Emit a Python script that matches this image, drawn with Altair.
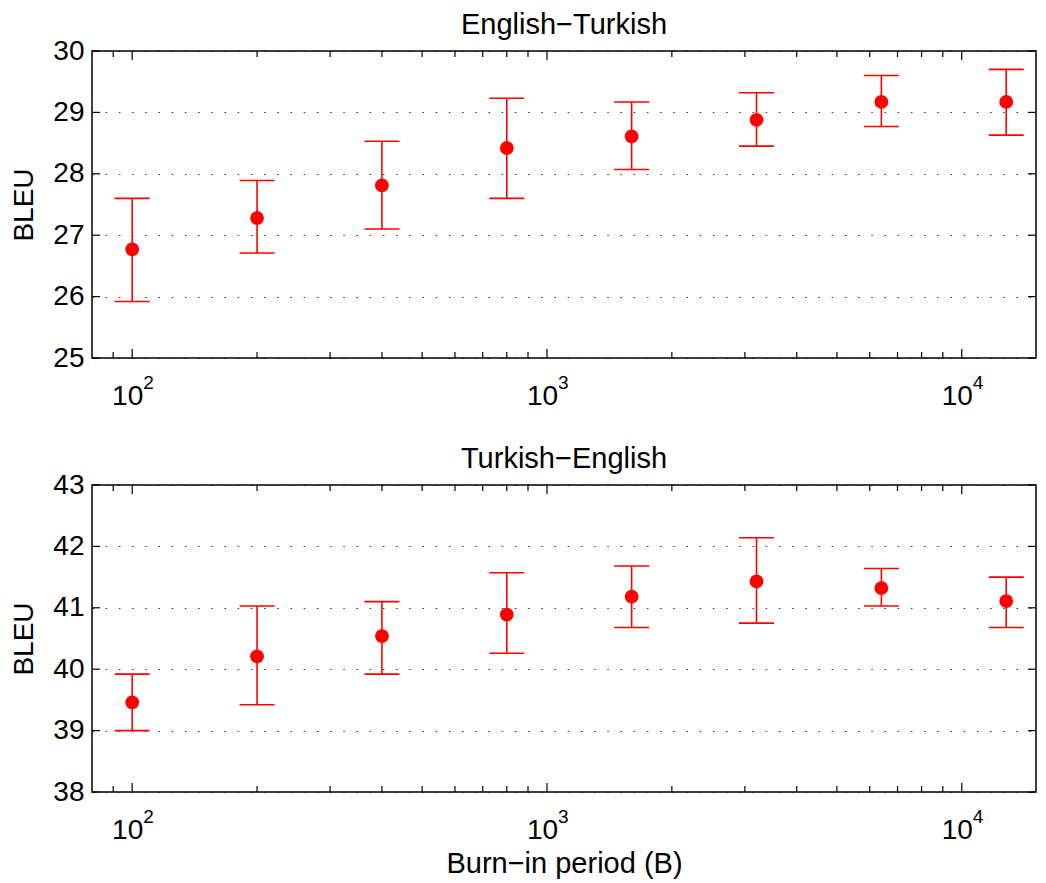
import altair as alt
import pandas as pd

FONT = "Liberation Sans"
RED = "#ff0000"

# Burn-in period values (x)
B = [100, 200, 400, 800, 1600, 3200, 6400, 12800]

# English-Turkish BLEU
et_mean = [26.77, 27.28, 27.81, 28.42, 28.61, 28.88, 29.17, 29.17]
et_low = [25.92, 26.71, 27.10, 27.60, 28.07, 28.45, 28.77, 28.63]
et_high = [27.60, 27.89, 28.53, 29.23, 29.17, 29.32, 29.60, 29.70]

# Turkish-English BLEU
te_mean = [39.46, 40.21, 40.54, 40.89, 41.18, 41.43, 41.32, 41.11]
te_low = [39.00, 39.42, 39.92, 40.26, 40.68, 40.75, 41.03, 40.68]
te_high = [39.92, 41.03, 41.10, 41.57, 41.68, 42.14, 41.64, 41.50]

# axis tick positions
major_ticks = [100, 1000, 10000]
major_exp = ["2", "3", "4"]
minor_ticks = [90, 200, 300, 400, 500, 600, 700, 800, 900,
               2000, 3000, 4000, 5000, 6000, 7000, 8000, 9000]

W = 944
H = 307
X_DOMAIN = [80, 15100]


def panel(title, mean, low, high, ymin, ymax, xtitle):
    df = pd.DataFrame({"B": B, "v": mean, "low": low, "high": high})
    maj = pd.DataFrame({"B": major_ticks, "e": major_exp})
    mnr = pd.DataFrame({"B": minor_ticks})
    yvals = list(range(ymin, ymax + 1))
    yt = pd.DataFrame({"v": yvals})

    xscale = alt.Scale(type="log", domain=X_DOMAIN, nice=False)
    yscale = alt.Scale(domain=[ymin, ymax], nice=False, zero=False)

    xaxis_kw = dict(
        values=major_ticks, labelExpr="'10'", labelFontSize=28, labelFont=FONT,
        labelColor="black", ticks=False, tickSize=0, domain=False, grid=False,
        labelPadding=24, labelOffset=-5, labelFlush=False,
        titleFontSize=29, titleFont=FONT, titleFontWeight="normal",
        titleColor="black", titlePadding=5,
    )
    if xtitle:
        xaxis = alt.Axis(title=xtitle, **xaxis_kw)
    else:
        xaxis = alt.Axis(title=None, **xaxis_kw)

    yaxis = alt.Axis(
        values=yvals, format="d", labelFontSize=28, labelFont=FONT,
        labelColor="black", ticks=False, tickSize=0, domain=False, grid=True,
        gridDash=[1.5, 11.7], gridColor="black", gridOpacity=0.8, gridWidth=1,
        labelPadding=8, title="BLEU", titleFontSize=28, titleFont=FONT,
        titleFontWeight="normal", titleColor="black", titlePadding=14,
    )

    X = alt.X("B:Q", scale=xscale, axis=xaxis)
    Xs = alt.X("B:Q")
    Y = alt.Y("v:Q", scale=yscale, axis=yaxis)
    Ys = alt.Y("v:Q")

    err = alt.Chart(df).mark_rule(color=RED, strokeWidth=1.6).encode(
        x=X, y=alt.Y("low:Q"), y2="high:Q")
    cap_lo = alt.Chart(df).mark_tick(color=RED, orient="horizontal", size=35,
                                     thickness=1.6, opacity=1).encode(
        x=Xs, y=alt.Y("low:Q"))
    cap_hi = alt.Chart(df).mark_tick(color=RED, orient="horizontal", size=35,
                                     thickness=1.6, opacity=1).encode(
        x=Xs, y=alt.Y("high:Q"))
    pts = alt.Chart(df).mark_circle(color=RED, size=190, opacity=1).encode(
        x=Xs, y=Y)

    def xticks(data, length):
        top = alt.Chart(data).mark_rule(color="black", strokeWidth=1.2).encode(
            x=Xs, y=alt.value(0), y2=alt.value(length))
        bot = alt.Chart(data).mark_rule(color="black", strokeWidth=1.2).encode(
            x=Xs, y=alt.value(H), y2=alt.value(H - length))
        return [top, bot]

    yt_left = alt.Chart(yt).mark_rule(color="black", strokeWidth=1.2).encode(
        y=Ys, x=alt.value(0), x2=alt.value(8))
    yt_right = alt.Chart(yt).mark_rule(color="black", strokeWidth=1.2).encode(
        y=Ys, x=alt.value(W), x2=alt.value(W - 8))

    sup = alt.Chart(maj).mark_text(align="left", baseline="alphabetic",
                                   fontSize=19, font=FONT, color="black",
                                   dx=11).encode(
        x=Xs, y=alt.value(H + 31), text="e:N")

    layers = [err, cap_lo, cap_hi] + xticks(maj, 9) + xticks(mnr, 6) + \
        [yt_left, yt_right, sup, pts]
    return alt.layer(*layers).properties(
        width=W, height=H,
        title=alt.TitleParams(text=title, fontSize=29, font=FONT,
                              fontWeight="normal", color="black",
                              offset=-3, anchor="middle"),
    )


top = panel("English\u2212Turkish", et_mean, et_low, et_high, 25, 30, None)
bottom = panel("Turkish\u2212English", te_mean, te_low, te_high, 38, 43,
               "Burn\u2212in period (B)")

chart = alt.vconcat(top, bottom, spacing=33).properties(
    padding={"left": 2, "top": 2, "right": 0, "bottom": 0},
    background="white"
).configure_view(stroke="black", strokeWidth=1.5)

chart.save("out.html", embed_options={"renderer": "svg", "actions": False})
